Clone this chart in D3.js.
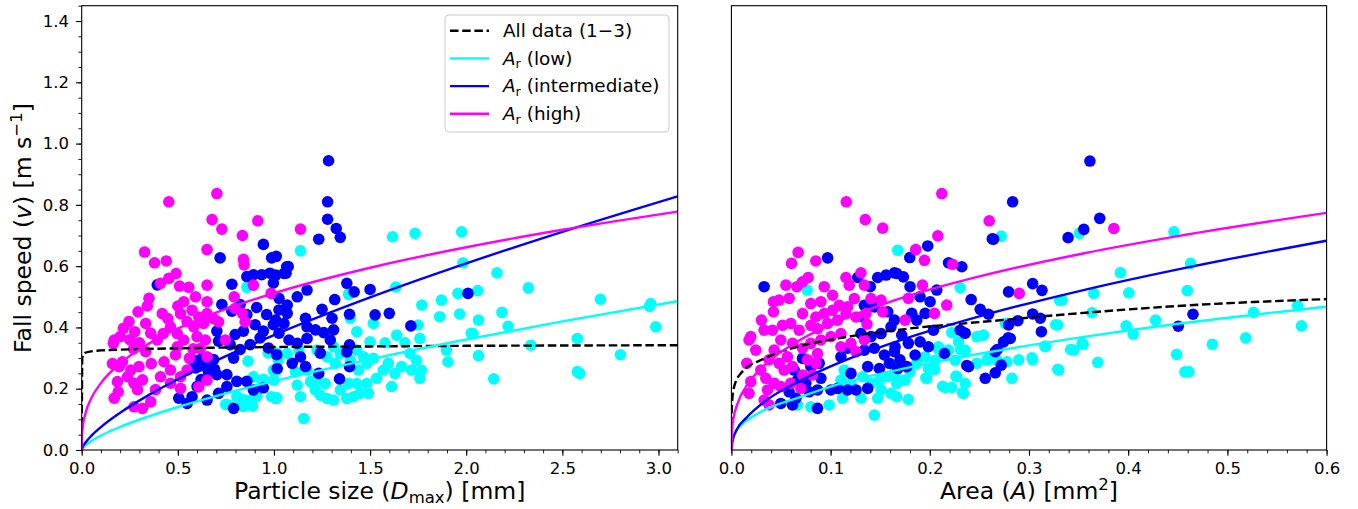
<!DOCTYPE html>
<html>
<head>
<meta charset="utf-8">
<script src="https://cdnjs.cloudflare.com/ajax/libs/d3/7.8.5/d3.min.js"></script>
<style>
  body { margin: 0; background: #fff; }
  svg text { font-family: "DejaVu Sans", sans-serif; fill: #000; }
</style>
</head>
<body>
<svg id="chart" width="1358" height="509"></svg>
<script>
// ---- data: [x, fall speed v (m/s)] ----
// left panel, x = Dmax (mm)
var dmaxLow = [[0.859,0.531],[0.893,0.239],[0.936,0.228],[1.014,0.261],[0.988,0.174],[0.893,0.169],[0.850,0.163],[0.807,0.174],[0.764,0.147],[0.841,0.142],[1.022,0.294],[0.997,0.261],
  [0.749,0.149],[0.830,0.165],[0.888,0.143],[0.912,0.176],[0.947,0.230],[0.865,0.290],[1.016,0.170],[1.005,0.317],[0.970,0.317],
  [1.138,0.650],[1.617,0.696],[1.734,0.707],[1.976,0.712],[1.983,0.611],[1.634,0.532],[1.388,0.508],[1.769,0.473],[1.871,0.489],[1.862,0.435],[1.957,0.511],[1.966,0.444],[1.397,0.430],[1.517,0.413],[1.750,0.408],[1.431,0.386],[1.638,0.375],[1.759,0.364],[2.026,0.381],[1.500,0.353],[1.578,0.350],[1.681,0.350],[1.897,0.326],[1.905,0.288],[1.707,0.315],[1.741,0.293],[1.767,0.261],[1.759,0.234],[1.716,0.261],[1.664,0.272],[1.629,0.250],[1.612,0.207],[1.595,0.283],[1.569,0.261],[1.534,0.234],[1.517,0.299],[1.483,0.283],[1.466,0.304],[1.431,0.326],[1.440,0.261],[1.483,0.217],[1.491,0.185],[1.448,0.185],[1.414,0.174],[1.379,0.168],[1.431,0.217],[1.388,0.217],[1.345,0.196],[1.310,0.163],[1.276,0.168],[1.241,0.179],[1.216,0.196],[1.190,0.223],[1.216,0.228],[1.267,0.217],[1.319,0.283],[1.276,0.304],[1.224,0.326],[1.310,0.337],[1.345,0.315],[1.397,0.293],[1.129,0.326],[1.069,0.315],[1.017,0.315],[1.121,0.212],[1.138,0.174],[1.009,0.168],[1.155,0.103],[1.000,0.228],[1.172,0.261],[1.112,0.255],
  [2.160,0.578],[2.323,0.529],[2.060,0.520],[2.698,0.492],[2.960,0.478],[2.954,0.469],[2.986,0.402],[2.064,0.424],[2.186,0.449],[2.218,0.404],[2.035,0.380],[2.336,0.342],[2.578,0.364],[2.064,0.308],[2.802,0.311],[2.578,0.256],[2.590,0.250],[2.143,0.232]];

var dmaxMid = [[0.720,0.627],[0.945,0.671],[0.988,0.627],[1.012,0.632],[1.074,0.599],[1.063,0.577],
  [0.393,0.539],[0.781,0.541],[0.859,0.566],[0.893,0.572],[0.936,0.572],[0.979,0.577],[0.997,0.545],
  [0.729,0.475],[0.781,0.453],[0.824,0.475],[0.859,0.442],[0.910,0.465],[0.962,0.442],[0.902,0.409],[0.945,0.388],[0.997,0.409],[0.841,0.388],[0.798,0.377],[0.703,0.388],[0.712,0.355],[0.772,0.344],[0.824,0.328],[0.876,0.344],[0.928,0.366],[0.971,0.333],[1.014,0.311],[0.790,0.300],
  [0.652,0.284],[0.617,0.295],[0.592,0.268],[0.659,0.256],[0.686,0.295],[0.703,0.246],[0.755,0.246],[0.807,0.224],[0.755,0.207],[0.859,0.224],[0.893,0.196],[0.945,0.203],
  [0.505,0.169],[0.548,0.152],[0.574,0.174],[0.652,0.163],[0.712,0.185],[0.790,0.136],[0.600,0.207],
  [0.574,0.295],[0.609,0.273],[0.656,0.301],[0.691,0.263],[0.621,0.230],
  [1.284,0.944],[1.279,0.810],[1.279,0.753],[1.324,0.723],[1.345,0.694],[1.233,0.688],[1.066,0.598],[1.052,0.576],[1.009,0.571],
  [1.379,0.544],[1.417,0.516],[1.500,0.524],[1.316,0.491],[1.172,0.522],[1.121,0.500],[1.069,0.473],[1.026,0.495],[1.026,0.457],[1.069,0.446],[1.009,0.424],[1.052,0.413],
  [1.250,0.459],[1.302,0.430],[1.310,0.392],[1.393,0.443],[1.526,0.441],[1.600,0.446],[1.712,0.405],[1.164,0.430],[1.172,0.402],[1.216,0.392],[1.259,0.383],[1.293,0.359],
  [1.026,0.381],[1.078,0.359],[1.121,0.348],[1.172,0.364],[1.393,0.343],[1.379,0.320],[1.241,0.316],[1.138,0.304],[1.095,0.283],[1.164,0.272],[1.017,0.266],[1.393,0.272],[1.233,0.250],[1.341,0.232],[2.009,0.511]];

var dmaxHigh = [[0.453,0.810],[0.703,0.837],[0.678,0.752],[0.729,0.721],[0.836,0.700],[0.916,0.748],[1.138,0.721],
  [0.327,0.646],[0.379,0.611],[0.440,0.617],[0.652,0.654],[0.841,0.622],[0.845,0.604],
  [0.491,0.576],[0.453,0.560],[0.410,0.544],[0.509,0.535],[0.557,0.531],[0.652,0.538],[0.592,0.500],[0.531,0.484],[0.500,0.470],
  [0.350,0.495],[0.341,0.470],[0.293,0.451],[0.246,0.419],[0.217,0.397],[0.169,0.359],[0.165,0.348],[0.276,0.386],[0.333,0.413],[0.359,0.381],
  [0.419,0.445],[0.448,0.429],[0.462,0.402],[0.424,0.380],[0.393,0.359],[0.514,0.445],[0.548,0.419],[0.574,0.456],[0.609,0.434],[0.634,0.413],[0.583,0.402],
  [0.652,0.484],[0.652,0.445],[0.686,0.429],[0.712,0.418],[0.497,0.380],[0.531,0.359],[0.497,0.337],[0.600,0.370],[0.643,0.359],[0.747,0.359],
  [0.793,0.500],[0.798,0.462],[0.836,0.446],[0.850,0.418],[0.893,0.538],[0.985,0.511],
  [0.160,0.282],[0.195,0.272],[0.212,0.288],[0.186,0.223],[0.169,0.169],[0.190,0.190],[0.272,0.218],[0.290,0.197],[0.316,0.229],[0.272,0.141],[0.316,0.136],[0.359,0.157],
  [0.362,0.282],[0.428,0.288],[0.410,0.239],[0.462,0.261],[0.462,0.218],[0.514,0.239],[0.514,0.201],[0.548,0.261],[0.488,0.310],[0.333,0.321],[0.298,0.272],[0.255,0.261],
  [0.652,0.228],[0.609,0.206],[0.652,0.304],[0.617,0.331],[0.238,0.239],[0.384,0.197],
  [0.200,0.370],[0.250,0.360],[0.300,0.350],[0.270,0.330],[0.580,0.330],[0.560,0.300]];

// right panel, x = area A (mm^2)
var areaLow = [[0.1677,0.652],[0.0764,0.522],[0.1441,0.114],[0.1137,0.261],[0.1104,0.228],[0.1205,0.218],[0.1323,0.239],[0.1407,0.218],[0.1492,0.228],[0.1576,0.239],[0.1677,0.228],[0.1508,0.196],[0.1609,0.185],[0.1475,0.169],[0.1306,0.169],[0.1121,0.169],[0.0801,0.141],[0.0666,0.147],[0.0986,0.147],[0.1643,0.272],
  [0.2720,0.698],[0.3508,0.707],[0.2306,0.530],[0.3333,0.489],[0.3290,0.408],[0.2542,0.375],[0.2475,0.370],[0.2222,0.383],[0.2290,0.353],[0.2357,0.326],[0.2256,0.293],[0.2188,0.326],[0.2087,0.337],[0.2054,0.293],[0.1953,0.304],[0.1986,0.266],[0.1969,0.234],[0.1868,0.283],[0.1801,0.255],[0.1751,0.228],[0.1667,0.261],[0.1667,0.217],[0.1784,0.165],[0.1667,0.174],[0.2155,0.204],[0.2222,0.204],[0.2357,0.217],[0.2340,0.185],[0.2273,0.239],[0.2475,0.283],[0.2576,0.293],[0.2677,0.293],[0.2778,0.288],[0.2896,0.294],[0.2828,0.234],[0.3037,0.294],[0.3165,0.337],[0.3299,0.261],[0.3451,0.326],[0.3535,0.348],[0.2761,0.413],
  [0.4461,0.712],[0.4629,0.609],[0.3922,0.579],[0.3653,0.511],[0.4006,0.513],[0.4596,0.520],[0.3636,0.448],[0.3979,0.405],[0.4050,0.378],[0.4276,0.424],[0.3545,0.345],[0.3694,0.286],[0.4488,0.312],[0.4848,0.345],[0.5185,0.366],[0.5263,0.449],[0.5707,0.471],[0.5747,0.405],[0.4572,0.255],[0.4613,0.255],
  [0.3270,0.409],[0.3310,0.488],[0.3160,0.339],[0.3420,0.328],[0.3290,0.263],[0.3030,0.301],
  [0.2590,0.300],[0.2264,0.241],[0.2330,0.187],[0.2130,0.208],[0.2050,0.263],[0.1960,0.235],[0.2090,0.328],[0.2308,0.328]];

var areaMid = [[0.0970,0.627],[0.0330,0.533],[0.1273,0.563],[0.1475,0.563],[0.1559,0.571],[0.1643,0.578],[0.1400,0.533],[0.1340,0.472],[0.1323,0.434],[0.1441,0.467],[0.1576,0.451],[0.1643,0.424],[0.1508,0.380],[0.1609,0.402],[0.1407,0.370],[0.1306,0.380],[0.1340,0.326],[0.1441,0.332],[0.1542,0.310],[0.1643,0.321],[0.1171,0.332],[0.1104,0.304],[0.0717,0.299],[0.0801,0.272],[0.0885,0.283],[0.0633,0.261],[0.0666,0.228],[0.0750,0.218],[0.0902,0.234],[0.0868,0.196],[0.0784,0.190],[0.0650,0.169],[0.0582,0.190],[0.0498,0.152],[0.0616,0.147],[0.0868,0.136],[0.1003,0.196],[0.1070,0.201],[0.1171,0.196],[0.1256,0.196],[0.1374,0.201],[0.1205,0.250],[0.1374,0.272],[0.1492,0.266],[0.1593,0.283],[0.1677,0.266],
  [0.2835,0.810],[0.1979,0.666],[0.1798,0.628],[0.2189,0.611],[0.2323,0.598],[0.2643,0.688],[0.3394,0.693],[0.3552,0.720],[0.1667,0.576],[0.1734,0.565],[0.1801,0.533],[0.1902,0.500],[0.2070,0.522],[0.2003,0.484],[0.2417,0.491],[0.2508,0.459],[0.2592,0.443],[0.2794,0.516],[0.3037,0.543],[0.3131,0.521],[0.3037,0.444],[0.3114,0.430],[0.2888,0.422],[0.2794,0.408],[0.3125,0.386],[0.2306,0.391],[0.2357,0.381],[0.1818,0.446],[0.1953,0.446],[0.1868,0.424],[0.2037,0.391],[0.1717,0.375],[0.1784,0.348],[0.1902,0.353],[0.1986,0.337],[0.1650,0.337],[0.1852,0.310],[0.1700,0.294],[0.1768,0.272],[0.2148,0.315],[0.2744,0.353],[0.2811,0.364],[0.2660,0.321],[0.2720,0.277],[0.2660,0.252],[0.2559,0.234],[0.2390,0.272],
  [0.3614,0.943],[0.3713,0.756],[0.4653,0.443],[0.4505,0.404],[0.2630,0.689],[0.2790,0.366],[0.2680,0.328],[0.2373,0.276],[0.2350,0.382]];

var areaHigh = [[0.1158,0.810],[0.1350,0.752],[0.1525,0.724],[0.0673,0.645],[0.0606,0.609],[0.0851,0.617],[0.0774,0.563],[0.0717,0.549],[0.1155,0.563],[0.1306,0.578],[0.1188,0.538],[0.1340,0.538],[0.0936,0.533],[0.0660,0.533],[0.0549,0.538],
  [0.0582,0.495],[0.0481,0.489],[0.0424,0.484],[0.0424,0.451],[0.0303,0.424],[0.0330,0.391],[0.0195,0.370],[0.0178,0.359],[0.0246,0.326],[0.0155,0.283],[0.0296,0.261],[0.0195,0.223],[0.0178,0.185],[0.0330,0.163],[0.0380,0.147],
  [0.0414,0.391],[0.0515,0.407],[0.0599,0.413],[0.0717,0.445],[0.0801,0.478],[0.0902,0.484],[0.1020,0.505],[0.1087,0.472],[0.1171,0.467],[0.1239,0.494],[0.1020,0.456],[0.0936,0.445],[0.0851,0.434],[0.0801,0.407],[0.0683,0.391],[0.0868,0.396],[0.0970,0.413],[0.1070,0.424],[0.1155,0.445],[0.1256,0.434],[0.1357,0.445],[0.1407,0.494],[0.1508,0.489],[0.1525,0.451],[0.1367,0.411],[0.1340,0.359],[0.1104,0.380],[0.1003,0.370],[0.0902,0.359],[0.0801,0.348],[0.0717,0.332],[0.0616,0.348],[0.0498,0.359],[0.0431,0.326],[0.0380,0.294],[0.0481,0.283],[0.0565,0.304],[0.0532,0.261],[0.0616,0.272],[0.0767,0.294],[0.0868,0.315],[0.0851,0.283],[0.0717,0.245],[0.0818,0.245],[0.0431,0.218],[0.0347,0.234],[0.0364,0.196],[0.0498,0.207],[0.0599,0.218],[0.0700,0.201],[0.1256,0.321],[0.1205,0.348],[0.1104,0.337],
  [0.2121,0.837],[0.2599,0.748],[0.2081,0.699],[0.1858,0.654],[0.1946,0.619],[0.2229,0.606],[0.1926,0.538],[0.1784,0.495],[0.2171,0.473],[0.2047,0.446],[0.1751,0.424],[0.2902,0.511],[0.3855,0.723]];

// fitted curves, sampled off the figure
var fitDmaxAll  = [[0,0],[0.003,0.30],[0.013,0.316],[0.05,0.322],[0.1,0.325],[0.3,0.329],[0.6,0.333],[1.0,0.336],[1.5,0.338],[2.0,0.340],[2.5,0.341],[3.1,0.342]];
var fitDmaxLow  = [[0,0],[0.005,0.0061],[0.02,0.0157],[0.05,0.0293],[0.1,0.047],[0.2,0.0753],[0.35,0.110],[0.5,0.1404],[0.75,0.185],[1.0,0.225],[1.5,0.296],[2.0,0.3605],[2.5,0.4196],[3.1,0.4856]];
var fitDmaxMid  = [[0,0],[0.005,0.0092],[0.02,0.0243],[0.05,0.0461],[0.1,0.0748],[0.2,0.1215],[0.35,0.1799],[0.5,0.2309],[0.75,0.3066],[1.0,0.375],[1.5,0.498],[2.0,0.609],[2.5,0.712],[3.1,0.828]];
var fitDmaxHigh = [[0,0],[0.001,0.0397],[0.005,0.0721],[0.02,0.1204],[0.05,0.169],[0.1,0.2184],[0.2,0.2823],[0.35,0.3472],[0.5,0.3962],[0.75,0.4603],[1.0,0.512],[1.5,0.5949],[2.0,0.6617],[2.5,0.7187],[3.1,0.778]];
var fitAreaAll  = [[0,0],[0.0003,0.12],[0.001,0.17],[0.0027,0.206],[0.01,0.252],[0.033,0.298],[0.0666,0.337],[0.1,0.36],[0.165,0.391],[0.266,0.422],[0.357,0.448],[0.45,0.47],[0.6,0.4925]];
var fitAreaLow  = [[0,0],[0.001,0.03],[0.0027,0.047],[0.0094,0.08],[0.02,0.106],[0.033,0.13],[0.0666,0.17],[0.1,0.207],[0.134,0.237],[0.171,0.264],[0.25,0.314],[0.357,0.37],[0.45,0.412],[0.6,0.4675]];
var fitAreaMid  = [[0,0],[0.001,0.028],[0.006,0.07],[0.015,0.105],[0.033,0.157],[0.0666,0.222],[0.1,0.273],[0.134,0.317],[0.17,0.358],[0.25,0.436],[0.355,0.522],[0.46,0.596],[0.6,0.683]];
var fitAreaHigh = [[0,0],[0.0005,0.062],[0.002,0.1015],[0.006,0.150],[0.015,0.208],[0.033,0.2756],[0.0666,0.354],[0.1,0.409],[0.165,0.489],[0.25,0.5666],[0.357,0.643],[0.45,0.698],[0.6,0.774]];

var yTicks = [0, 0.2, 0.4, 0.6, 0.8, 1.0, 1.2, 1.4];
var dmaxTicks = [0, 0.5, 1.0, 1.5, 2.0, 2.5, 3.0];
var areaTicks = [0, 0.1, 0.2, 0.3, 0.4, 0.5, 0.6];
var legendLabels = ["All data (1\u22123)", "low", "intermediate", "high"];

var colLow = "#00ffff", colMid = "#0000ff", colHigh = "#ff00ff";

var svg = d3.select("#chart");
var plotTop = 5.7, plotBottom = 450;
var y = d3.scaleLinear().domain([0, 1.45]).range([plotBottom, plotTop]);
var fmt = d3.format(".1f");

function panel(id, x0, x1, xMax, xTicks, xMinorStep, showY, scatter, fits) {
  var x = d3.scaleLinear().domain([0, xMax]).range([x0, x1]);
  var g = svg.append("g");

  g.append("clipPath").attr("id", "clip" + id)
    .append("rect").attr("x", x0).attr("y", plotTop).attr("width", x1 - x0).attr("height", plotBottom - plotTop);

  var inner = g.append("g").attr("clip-path", "url(#clip" + id + ")");

  // scatter, low -> intermediate -> high
  scatter.forEach(function(s) {
    inner.append("g").selectAll("circle").data(s.data).join("circle")
      .attr("cx", function(d) { return x(d[0]); })
      .attr("cy", function(d) { return y(d[1]); })
      .attr("r", 5.8)
      .attr("fill", s.color);
  });

  // fit lines
  var line = d3.line()
    .x(function(d) { return x(d[0]); })
    .y(function(d) { return y(d[1]); })
    .curve(d3.curveMonotoneX);
  fits.forEach(function(f) {
    inner.append("path").datum(f.data)
      .attr("d", line)
      .attr("fill", "none")
      .attr("stroke", f.color)
      .attr("stroke-width", 2.4)
      .attr("stroke-dasharray", f.dash || null);
  });

  // x axis
  var minor = d3.range(0, xMax + 1e-9, xMinorStep);
  g.append("g").attr("transform", "translate(0," + plotBottom + ")")
    .call(d3.axisBottom(x).tickValues(minor).tickSize(3.3).tickFormat("").tickSizeOuter(0))
    .call(function(a) { a.select(".domain").remove(); a.selectAll("line").attr("stroke-width", 0.9); });
  g.append("g").attr("transform", "translate(0," + plotBottom + ")")
    .call(d3.axisBottom(x).tickValues(xTicks).tickSize(5.7).tickPadding(7).tickFormat(fmt).tickSizeOuter(0))
    .call(function(a) {
      a.select(".domain").remove();
      a.selectAll("line").attr("stroke-width", 1.1);
      a.selectAll("text").attr("font-size", "16.5px").attr("font-family", "DejaVu Sans");
    });

  if (showY) {
    var yMinor = d3.range(0, 1.45 + 1e-9, 0.05);
    g.append("g").attr("transform", "translate(" + x0 + ",0)")
      .call(d3.axisLeft(y).tickValues(yMinor).tickSize(3.3).tickFormat("").tickSizeOuter(0))
      .call(function(a) { a.select(".domain").remove(); a.selectAll("line").attr("stroke-width", 0.9); });
    g.append("g").attr("transform", "translate(" + x0 + ",0)")
      .call(d3.axisLeft(y).tickValues(yTicks).tickSize(5.7).tickPadding(7).tickFormat(fmt).tickSizeOuter(0))
      .call(function(a) {
        a.select(".domain").remove();
        a.selectAll("line").attr("stroke-width", 1.1);
        a.selectAll("text").attr("font-size", "16.5px").attr("font-family", "DejaVu Sans");
      });
  }

  // frame
  g.append("rect").attr("x", x0).attr("y", plotTop)
    .attr("width", x1 - x0).attr("height", plotBottom - plotTop)
    .attr("fill", "none").attr("stroke", "#000").attr("stroke-width", 1.1);

  return { x: x, g: g };
}

var left = panel("L", 81.7, 677.7, 3.1, dmaxTicks, 0.1, true,
  [{ data: dmaxLow, color: colLow }, { data: dmaxMid, color: colMid }, { data: dmaxHigh, color: colHigh }],
  [{ data: fitDmaxAll, color: "#000", dash: "8.5,3.7" }, { data: fitDmaxLow, color: colLow },
   { data: fitDmaxMid, color: colMid }, { data: fitDmaxHigh, color: colHigh }]);

var right = panel("R", 731.4, 1326.6, 0.6, areaTicks, 0.02, false,
  [{ data: areaLow, color: colLow }, { data: areaMid, color: colMid }, { data: areaHigh, color: colHigh }],
  [{ data: fitAreaAll, color: "#000", dash: "8.5,3.7" }, { data: fitAreaLow, color: colLow },
   { data: fitAreaMid, color: colMid }, { data: fitAreaHigh, color: colHigh }]);

// axis labels
var yl = svg.append("text")
  .attr("transform", "translate(31,228) rotate(-90)")
  .attr("text-anchor", "middle").attr("font-size", "23.5px");
yl.append("tspan").text("Fall speed (");
yl.append("tspan").attr("font-style", "italic").text("v");
yl.append("tspan").text(") [m s");
yl.append("tspan").attr("font-size", "16.5px").attr("dy", -9).text("\u22121");
yl.append("tspan").attr("dy", 9).text("]");

var xl = svg.append("text").attr("x", 379.7).attr("y", 499)
  .attr("text-anchor", "middle").attr("font-size", "23.5px");
xl.append("tspan").text("Particle size (");
xl.append("tspan").attr("font-style", "italic").text("D");
xl.append("tspan").attr("font-size", "16.5px").attr("dy", 4).text("max");
xl.append("tspan").attr("dy", -4).text(") [mm]");

var xr = svg.append("text").attr("x", 1029).attr("y", 499)
  .attr("text-anchor", "middle").attr("font-size", "23.5px");
xr.append("tspan").text("Area (");
xr.append("tspan").attr("font-style", "italic").text("A");
xr.append("tspan").text(") [mm");
xr.append("tspan").attr("font-size", "16.5px").attr("dy", -9).text("2");
xr.append("tspan").attr("dy", 9).text("]");

// legend
var lg = svg.append("g");
lg.append("rect").attr("x", 445).attr("y", 15).attr("width", 224).attr("height", 117)
  .attr("rx", 4).attr("fill", "#fff").attr("fill-opacity", 0.8)
  .attr("stroke", "#cccccc").attr("stroke-width", 1);
var legendColors = ["#000", colLow, colMid, colHigh];
var legendY = [30.7, 58.4, 86.1, 113.8];
legendLabels.forEach(function(lab, i) {
  lg.append("line").attr("x1", 450).attr("x2", 489).attr("y1", legendY[i]).attr("y2", legendY[i])
    .attr("stroke", legendColors[i]).attr("stroke-width", 2.4)
    .attr("stroke-dasharray", i === 0 ? "8.5,3.7" : null);
  var t = lg.append("text").attr("x", 503).attr("y", legendY[i] + 6.3).attr("font-size", "18.4px");
  if (i === 0) {
    t.text(lab);
  } else {
    t.append("tspan").attr("font-style", "italic").text("A");
    t.append("tspan").attr("font-size", "12.9px").attr("dy", 3.5).text("r");
    t.append("tspan").attr("dy", -3.5).text(" (" + lab + ")");
  }
});
</script>
</body>
</html>
